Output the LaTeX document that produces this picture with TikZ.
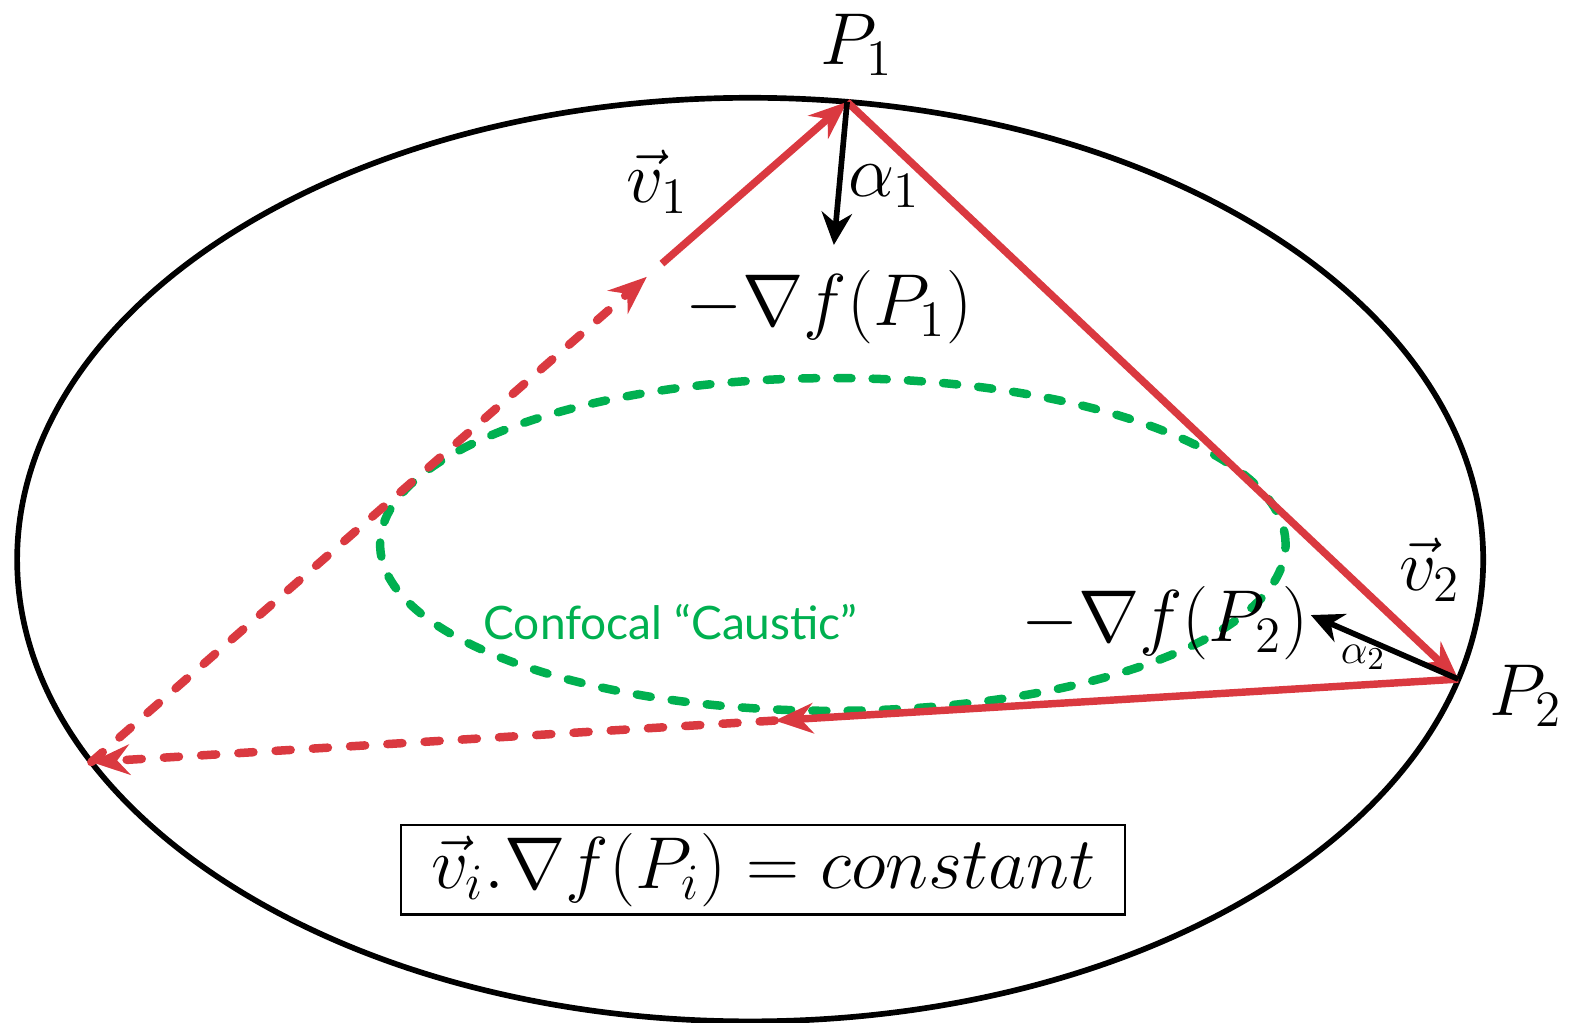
\documentclass[tikz,border=0pt]{standalone}
\usepackage{amsmath}
\usepackage{fontspec}
\newfontfamily\causticfont{Lato}
\usetikzlibrary{arrows.meta,calc}
\definecolor{raycol}{RGB}{218,57,64}
\definecolor{causticcol}{RGB}{0,176,80}

\begin{document}
\begin{tikzpicture}[line width=1.5pt,>={Stealth[length=3.8mm,width=3mm]},
  lbl/.style={font=\fontsize{20}{24}\selectfont},
  ray/.style={raycol,line width=2.1pt},
  rayd/.style={ray,line width=2.4pt,line cap=round,dash pattern=on 1.5mm off 2.2mm},
  grad/.style={->,black,line width=1.6pt,>={Stealth[length=3.2mm,width=3mm]}}]
  \useasboundingbox (0,0) rectangle (15.68,10.14);
  \coordinate (C) at (7.44,4.59);
  \draw[line width=1.6pt] (C) ellipse[x radius=7.27,y radius=4.58];
  \draw[causticcol,line width=2.4pt,line cap=round,dash pattern=on 1.4mm off 2.1mm] (8.26,4.74) ellipse[x radius=4.49,y radius=1.65];
  \path (C) ++(82.4:7.27 and 4.58) coordinate (P1);
  \path (C) ++(-15:7.27 and 4.58) coordinate (P2);
  \path (C) ++(206:7.27 and 4.58) coordinate (Q);
  \coordinate (A) at ($(Q)!0.735!(P1)$);
  \coordinate (B) at ($(Q)!0.755!(P1)$);
  \coordinate (M) at ($(P2)!0.5!(Q)$);
  \coordinate (G1) at (8.27,7.71);
  \coordinate (G2) at (13.00,4.04);
  \draw[rayd,->] (Q) -- (A);
  \draw[ray,->] (B) -- (P1);
  \draw[ray,->] (P1) -- (P2);
  \draw[ray,->] (P2) -- (M);
  \draw[rayd,->] (M) -- (Q);
  \draw[grad] (P1) -- (G1);
  \draw[grad] (P2) -- (G2);
  \node[lbl] (p1lbl) at (8.50,9.69) {$P_1$};
  \node[lbl] (v1lbl) at (6.52,8.34) {$\vec{v}_1$};
  \node[lbl] (a1lbl) at (8.77,8.29) {$\alpha_1$};
  \node[lbl] (g1lbl) at (8.22,7.09) {$-\nabla f(P_1)$};
  \node[lbl] (v2lbl) at (14.18,4.49) {$\vec{v}_2$};
  \node[lbl] (g2lbl) at (11.55,3.96) {$-\nabla f(P_2)$};
  \node[font=\fontsize{13}{15}\selectfont] (a2lbl) at (13.52,3.62) {$\alpha_2$};
  \node[lbl] (p2lbl) at (15.13,3.24) {$P_2$};
  \node[causticcol,font=\causticfont\fontsize{13}{15}\selectfont] (caustic) at (6.65,3.97) {Confocal “Caustic”};
  \node[draw,line width=0.6pt,minimum width=7.18cm,minimum height=0.89cm,inner sep=0pt,lbl] (law) at (7.57,1.515) {$\vec{v}_i.\nabla f(P_i) = constant$};
\end{tikzpicture}
\end{document}
